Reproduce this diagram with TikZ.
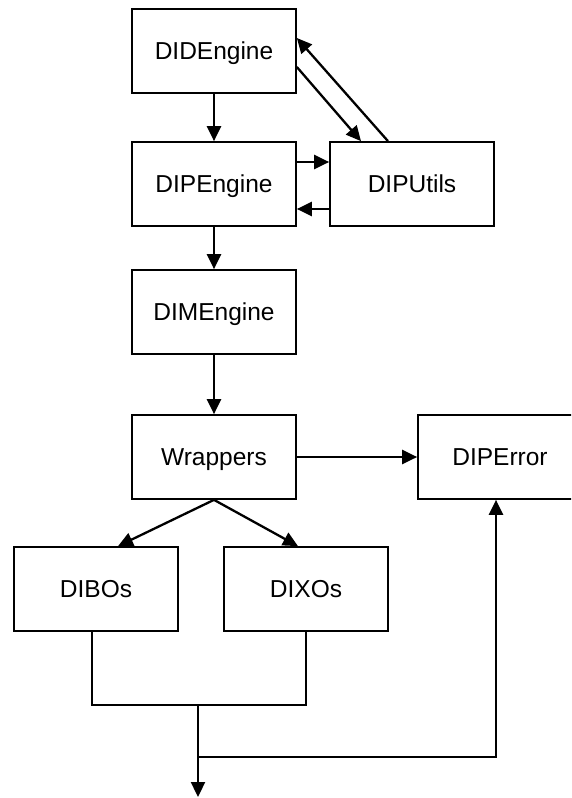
\documentclass[tikz,border=0pt]{standalone}
\usepackage{fontspec}
\setmainfont{Liberation Sans}
\usetikzlibrary{arrows.meta,calc}
\begin{document}
\begin{tikzpicture}[x=1pt,y=-1pt,
  box/.style={draw,line width=1.7pt,minimum width=164pt,minimum height=84pt,inner sep=0pt,text height=17.5pt,text depth=0pt,font=\fontsize{24.5}{28}\selectfont},
  arr/.style={line width=2.3pt,-{Triangle[length=15pt,width=14pt]}},
  thin/.style={line width=1.5pt}]
\clip (0,0) rectangle (571,798);
\fill[white] (0,0) rectangle (571,798);
\node[box] (did) at (214,51) {DIDEngine};
\node[box] (dip) at (214,184) {DIPEngine};
\node[box] (util) at (412,184) {DIPUtils};
\node[box] (dim) at (214,312) {DIMEngine};
\node[box] (wrap) at (214,457) {Wrappers};
\node[box] (err) at (500,457) {DIPError};
\node[box] (bos) at (96,589) {DIBOs};
\node[box] (xos) at (306,589) {DIXOs};
% top
\draw[arr] (did.south) -- (dip.north);
\draw[arr] ($(did.east)+(0,16)$) -- ($(util.north)+(-51,0)$);
\draw[arr] ($(util.north)+(-24,0)$) -- ($(did.east)+(0,-13)$);
\draw[arr] ($(dip.east)+(0,-22)$) -- ($(util.west)+(0,-22)$);
\draw[arr] ($(util.west)+(0,25)$) -- ($(dip.east)+(0,25)$);
\draw[arr] (dip.south) -- (dim.north);
\draw[arr] (dim.south) -- (wrap.north);
\draw[arr] (wrap.east) -- (err.west);
\draw[arr] (wrap.south) -- ($(bos.north)+(22,0)$);
\draw[arr] (wrap.south) -- ($(xos.north)+(-8,0)$);
% bottom merge
\coordinate (m) at (198,705);
\coordinate (j) at (198,757);
\coordinate (out) at (198,797);
\draw[thin] ($(bos.south)+(-4,0)$) |- (m) -| (xos.south);
\draw[arr] (m) -- (out);
\draw[line width=2.3pt] (j) -| ($(err.south)+(-4,40)$);
\draw[arr] ($(err.south)+(-4,40)$) -- ($(err.south)+(-4,0)$);
\end{tikzpicture}
\end{document}
